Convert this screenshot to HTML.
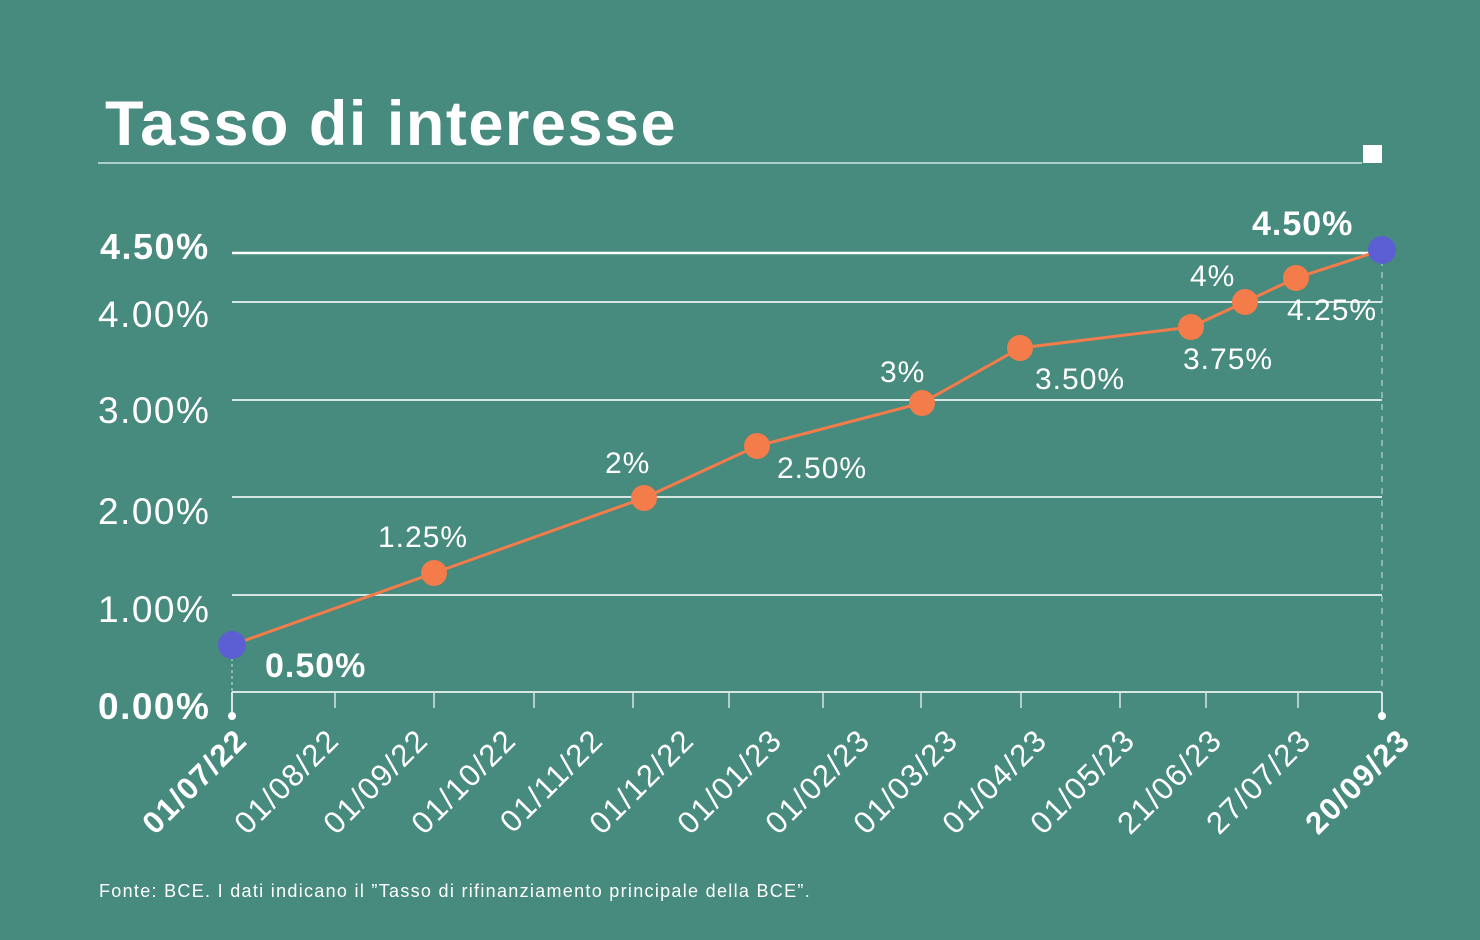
<!DOCTYPE html>
<html><head><meta charset="utf-8"><style>
html,body{margin:0;padding:0;background:#478a7e;}
svg{display:block;font-family:"Liberation Sans",sans-serif;}
</style></head><body>
<svg width="1480" height="940" viewBox="0 0 1480 940" xmlns="http://www.w3.org/2000/svg">
<rect width="1480" height="940" fill="#478a7e"/>
<text x="105" y="145" font-size="63" font-weight="bold" fill="#fff" letter-spacing="1.5">Tasso di interesse</text>
<line x1="98" y1="163" x2="1362" y2="163" stroke="#cfe3df" stroke-width="1.5"/>
<rect x="1363" y="145" width="19" height="18" fill="#fff"/>
<g stroke="#d6e6e3" stroke-width="2">
<line x1="232" y1="253" x2="1382" y2="253" stroke="#fff" stroke-width="2.5"/>
<line x1="232" y1="302" x2="1382" y2="302"/>
<line x1="232" y1="400" x2="1382" y2="400"/>
<line x1="232" y1="497" x2="1382" y2="497"/>
<line x1="232" y1="595" x2="1382" y2="595"/>
<line x1="232" y1="692" x2="1382" y2="692"/>
<line x1="232" y1="692" x2="232" y2="715"/>
<line x1="1382" y1="692" x2="1382" y2="715"/>
<g stroke-width="1.5">
<line x1="335" y1="692" x2="335" y2="708"/><line x1="434" y1="692" x2="434" y2="708"/>
<line x1="534" y1="692" x2="534" y2="708"/><line x1="633" y1="692" x2="633" y2="708"/>
<line x1="729" y1="692" x2="729" y2="708"/><line x1="823" y1="692" x2="823" y2="708"/>
<line x1="921" y1="692" x2="921" y2="708"/><line x1="1021" y1="692" x2="1021" y2="708"/>
<line x1="1120" y1="692" x2="1120" y2="708"/><line x1="1206" y1="692" x2="1206" y2="708"/>
<line x1="1298" y1="692" x2="1298" y2="708"/>
</g>
</g>
<line x1="1382" y1="260" x2="1382" y2="692" stroke="#cfe3df" stroke-width="1" stroke-dasharray="6,6"/>
<line x1="232" y1="652" x2="232" y2="692" stroke="#cfe3df" stroke-width="1" stroke-dasharray="3,3"/>
<circle cx="232" cy="716" r="4" fill="#fff"/><circle cx="1382" cy="716" r="4" fill="#fff"/>
<g fill="#fff" font-size="37" letter-spacing="1.5">
<text x="100" y="259" font-weight="bold" font-size="36">4.50%</text>
<text x="98" y="327">4.00%</text>
<text x="98" y="423">3.00%</text>
<text x="98" y="524">2.00%</text>
<text x="98" y="622">1.00%</text>
<text x="98" y="719" font-weight="bold">0.00%</text>
</g>
<polyline points="232,645 434,573 644,498 757,446 922,403 1020,348 1191,327 1245,302 1296,278 1382,250" fill="none" stroke="#f47c4a" stroke-width="3"/>
<g fill="#f47c4a">
<circle cx="434" cy="573" r="13"/><circle cx="644" cy="498" r="13"/><circle cx="757" cy="446" r="13"/>
<circle cx="922" cy="403" r="13"/><circle cx="1020" cy="348" r="13"/><circle cx="1191" cy="327" r="13"/>
<circle cx="1245" cy="302" r="13"/><circle cx="1296" cy="278" r="13"/>
</g>
<circle cx="232" cy="645" r="14" fill="#5b5fd1"/><circle cx="1382" cy="250" r="14" fill="#5b5fd1"/>
<g fill="#fff" font-size="30" letter-spacing="1">
<text x="265" y="677" font-weight="bold" font-size="34">0.50%</text>
<text x="378" y="547">1.25%</text>
<text x="605" y="473">2%</text>
<text x="777" y="478">2.50%</text>
<text x="880" y="382">3%</text>
<text x="1035" y="389">3.50%</text>
<text x="1183" y="369">3.75%</text>
<text x="1190" y="286">4%</text>
<text x="1287" y="320">4.25%</text>
<text x="1252" y="235" font-weight="bold" font-size="34">4.50%</text>
</g>
<g fill="#fff" font-size="31" text-anchor="end" letter-spacing="1.5">
<text transform="translate(249,742) rotate(-45)" font-weight="bold">01/07/22</text>
<text transform="translate(341,742) rotate(-45)">01/08/22</text>
<text transform="translate(430,742) rotate(-45)">01/09/22</text>
<text transform="translate(518,742) rotate(-45)">01/10/22</text>
<text transform="translate(605,742) rotate(-45)">01/11/22</text>
<text transform="translate(696,742) rotate(-45)">01/12/22</text>
<text transform="translate(784,742) rotate(-45)">01/01/23</text>
<text transform="translate(872,742) rotate(-45)">01/02/23</text>
<text transform="translate(960,742) rotate(-45)">01/03/23</text>
<text transform="translate(1049,742) rotate(-45)">01/04/23</text>
<text transform="translate(1137,742) rotate(-45)">01/05/23</text>
<text transform="translate(1224,742) rotate(-45)">21/06/23</text>
<text transform="translate(1313,742) rotate(-45)">27/07/23</text>
<text transform="translate(1412,742) rotate(-45)" font-weight="bold">20/09/23</text>
</g>
<text x="99" y="897" font-size="18" fill="#fff" letter-spacing="1.3">Fonte: BCE. I dati indicano il ”Tasso di rifinanziamento principale della BCE”.</text>
</svg>
</body></html>
